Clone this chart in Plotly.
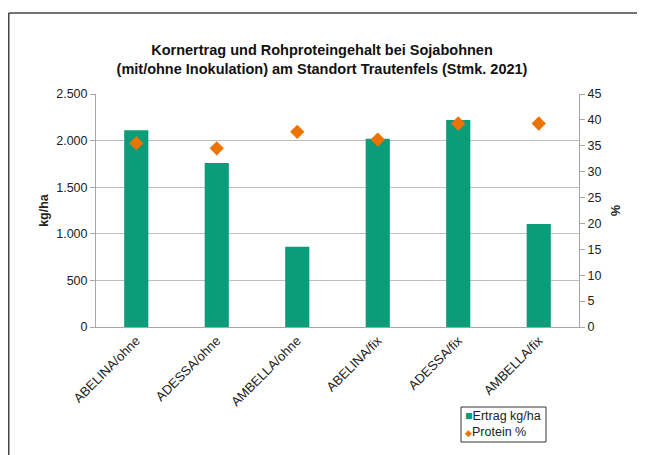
import plotly.graph_objects as go

categories = ["ABELINA/ohne", "ADESSA/ohne", "AMBELLA/ohne", "ABELINA/fix", "ADESSA/fix", "AMBELLA/fix"]
ertrag = [2110, 1760, 860, 2020, 2220, 1105]
protein = [35.5, 34.5, 37.7, 36.2, 39.3, 39.3]
series_names = ["Ertrag kg/ha", "Protein %"]

GREEN = "#0b9c79"
ORANGE = "#ec7306"
FONT = "Liberation Sans, Arial, sans-serif"

OFF = 8  # default page body margin
W, H = 645 - OFF, 455 - OFF
# plot area in reference (window) pixels
PX0, PX1, PY0, PY1 = 96, 579, 94, 327
L, R, T, B = PX0 - OFF, W - (PX1 - OFF), PY0 - OFF, H - (PY1 - OFF)
pw, ph = PX1 - PX0, PY1 - PY0

def px_x(x):
    return (x - PX0) / pw

def px_y(y):
    return (PY1 - y) / ph

fig = go.Figure()
fig.add_trace(go.Bar(x=categories, y=ertrag, name=series_names[0], marker=dict(color=GREEN, line=dict(width=0)),
                     width=0.30, yaxis="y"))
fig.add_trace(go.Scatter(x=categories, y=protein, name=series_names[1], mode="markers",
                         marker=dict(symbol="diamond", size=11, color=ORANGE), yaxis="y2"))

fig.update_layout(
    width=W, height=H,
    margin=dict(l=L, r=R, t=T, b=B, autoexpand=False),
    paper_bgcolor="white", plot_bgcolor="white",
    separators=",.",
    font=dict(family=FONT, size=12.5, color="#222"),
    title=dict(text="<b>Kornertrag und Rohproteingehalt bei Sojabohnen<br>(mit/ohne Inokulation) am Standort Trautenfels (Stmk. 2021)</b>",
               x=(322 - OFF) / W, xanchor="center", y=1 - (57 - OFF - 2) / H, yanchor="middle",
               font=dict(size=14.5, family=FONT, color="#111")),
    xaxis=dict(tickangle=-45, showgrid=False, showline=True, linecolor="#a6a6a6", linewidth=1,
               ticks="", tickfont=dict(size=13)),
    yaxis=dict(range=[0, 2500], dtick=500, tickformat=",d", showgrid=True, gridcolor="#bfbfbf", gridwidth=1,
               showline=True, linecolor="#a6a6a6", ticks="outside", ticklen=5, tickcolor="#a6a6a6",
               title=dict(text="<b>kg/ha</b>", standoff=4, font=dict(size=12.5)), zeroline=False),
    yaxis2=dict(range=[0, 45], dtick=5, overlaying="y", side="right", showgrid=False,
                showline=True, linecolor="#a6a6a6", ticks="outside", ticklen=5, tickcolor="#a6a6a6",
                title=dict(text="<b>%</b>", standoff=10, font=dict(size=12.5)), zeroline=False),
    bargap=0.70,
    showlegend=False,
    shapes=[
        dict(type="line", xref="paper", yref="paper",
             x0=px_x(OFF + 0.75), x1=px_x(640), y0=px_y(13), y1=px_y(13),
             line=dict(color="#444", width=1.5), layer="below"),
        dict(type="line", xref="paper", yref="paper",
             x0=px_x(OFF + 0.75), x1=px_x(OFF + 0.75), y0=px_y(13), y1=px_y(460),
             line=dict(color="#444", width=1.5), layer="below"),
        dict(type="rect", xref="paper", yref="paper",
             x0=px_x(461), x1=px_x(546), y0=px_y(407), y1=px_y(442),
             line=dict(color="#333", width=1), fillcolor="white"),
    ],
    annotations=[
        dict(xref="paper", yref="paper", x=px_x(463), y=px_y(416), xanchor="left", yanchor="middle",
             text=f"<span style='color:{GREEN}'>■</span>{series_names[0]}", showarrow=False,
             font=dict(size=12.5, color="#222")),
        dict(xref="paper", yref="paper", x=px_x(463), y=px_y(432), xanchor="left", yanchor="middle",
             text=f"<span style='color:{ORANGE};font-size:9px'>◆</span>{series_names[1]}", showarrow=False,
             font=dict(size=12.5, color="#222")),
    ],
)

fig.write_html("out.html")
